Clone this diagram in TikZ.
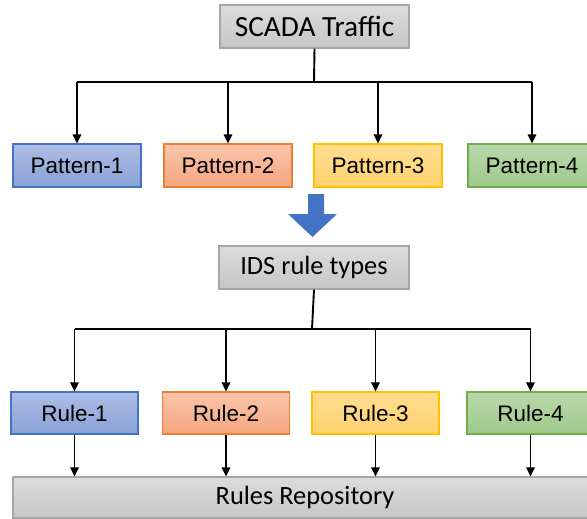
\documentclass[tikz,border=0pt]{standalone}
\usepackage{fontspec}
\setmainfont{Liberation Sans}
\newfontfamily\calib{Carlito}
\usetikzlibrary{arrows.meta}

\definecolor{blueTop}{RGB}{173,189,228}
\definecolor{blueBot}{RGB}{137,161,214}
\definecolor{blueLine}{RGB}{68,114,196}
\definecolor{orTop}{RGB}{249,196,170}
\definecolor{orBot}{RGB}{244,166,127}
\definecolor{orLine}{RGB}{237,125,49}
\definecolor{yeTop}{RGB}{255,222,145}
\definecolor{yeBot}{RGB}{255,209,110}
\definecolor{yeLine}{RGB}{255,192,0}
\definecolor{grTop}{RGB}{186,216,172}
\definecolor{grBot}{RGB}{158,201,139}
\definecolor{grLine}{RGB}{112,173,71}
\definecolor{gyTop}{RGB}{220,220,220}
\definecolor{gyBot}{RGB}{198,198,198}
\definecolor{gyLine}{RGB}{166,166,166}
\definecolor{flowBlue}{RGB}{68,114,196}

\tikzset{
  box/.style={rectangle, line width=1.2pt, inner sep=0pt, font=\fontsize{22.5}{26}\selectfont},
  bluebox/.style={box, draw=blueLine, top color=blueTop, bottom color=blueBot},
  orangebox/.style={box, draw=orLine, top color=orTop, bottom color=orBot},
  yellowbox/.style={box, draw=yeLine, top color=yeTop, bottom color=yeBot},
  greenbox/.style={box, draw=grLine, top color=grTop, bottom color=grBot},
  graybox/.style={rectangle, line width=1.2pt, inner sep=0pt, draw=gyLine,
    top color=gyTop, bottom color=gyBot, font=\calib\fontsize{26.4}{30}\selectfont},
  arr/.style={line width=1.9pt, -{Triangle[width=8.5pt,length=9pt]}},
  link/.style={line width=1.9pt},
}

\begin{document}
\begin{tikzpicture}[x=1pt,y=-1pt]
\useasboundingbox (0,0) rectangle (587,519);

% top source and pattern row
\node[graybox, minimum width=189pt, minimum height=43pt,
  font=\calib\fontsize{29.3}{32}\selectfont] (scada) at (314.5,26.5) {SCADA Traffic};
\node[bluebox,   minimum width=128pt, minimum height=43pt] (p1) at (77,165.5)  {Pattern-1};
\node[orangebox, minimum width=128pt, minimum height=43pt] (p2) at (228,165.5) {Pattern-2};
\node[yellowbox, minimum width=128pt, minimum height=43pt] (p3) at (378,165.5) {Pattern-3};
\node[greenbox,  minimum width=128pt, minimum height=43pt] (p4) at (532,165.5) {Pattern-4};

\coordinate (bus1) at (314,82);
\draw[link] (scada.south) -- (bus1);
\draw[link] (bus1 -| p1.north) -- (bus1 -| p4.north);
\foreach \p in {p1,p2,p3,p4}
  \draw[arr] (bus1 -| \p.north) -- (\p.north);

% block arrow between the two stages
\fill[flowBlue] (308,194) -- (324,194) -- (324,214) -- (337,214) -- (312.5,237)
  -- (288,214) -- (308,214) -- cycle;

% rule types and rule row
\node[graybox, minimum width=190pt, minimum height=43pt] (ids) at (314,267.5) {IDS rule types};
\node[bluebox,   minimum width=127pt, minimum height=42pt] (r1) at (74.5,413)  {Rule-1};
\node[orangebox, minimum width=127pt, minimum height=42pt] (r2) at (226,413)   {Rule-2};
\node[yellowbox, minimum width=127pt, minimum height=42pt] (r3) at (375.5,413) {Rule-3};
\node[greenbox,  minimum width=127pt, minimum height=42pt] (r4) at (530.5,413) {Rule-4};

\coordinate (bus2) at (312,329);
\draw[link] (ids.south) -- (bus2);
\draw[link] (bus2 -| r1.north) -- (bus2 -| r4.north);
\foreach \r in {r1,r2,r3,r4}
  \draw[arr] (bus2 -| \r.north) -- (\r.north);

% repository
\node[graybox, minimum width=584pt, minimum height=41pt] (repo) at (305,497.5) {Rules Repository};
\foreach \r in {r1,r2,r3,r4}
  \draw[arr] (\r.south) -- (\r.south |- repo.north);
\end{tikzpicture}
\end{document}
